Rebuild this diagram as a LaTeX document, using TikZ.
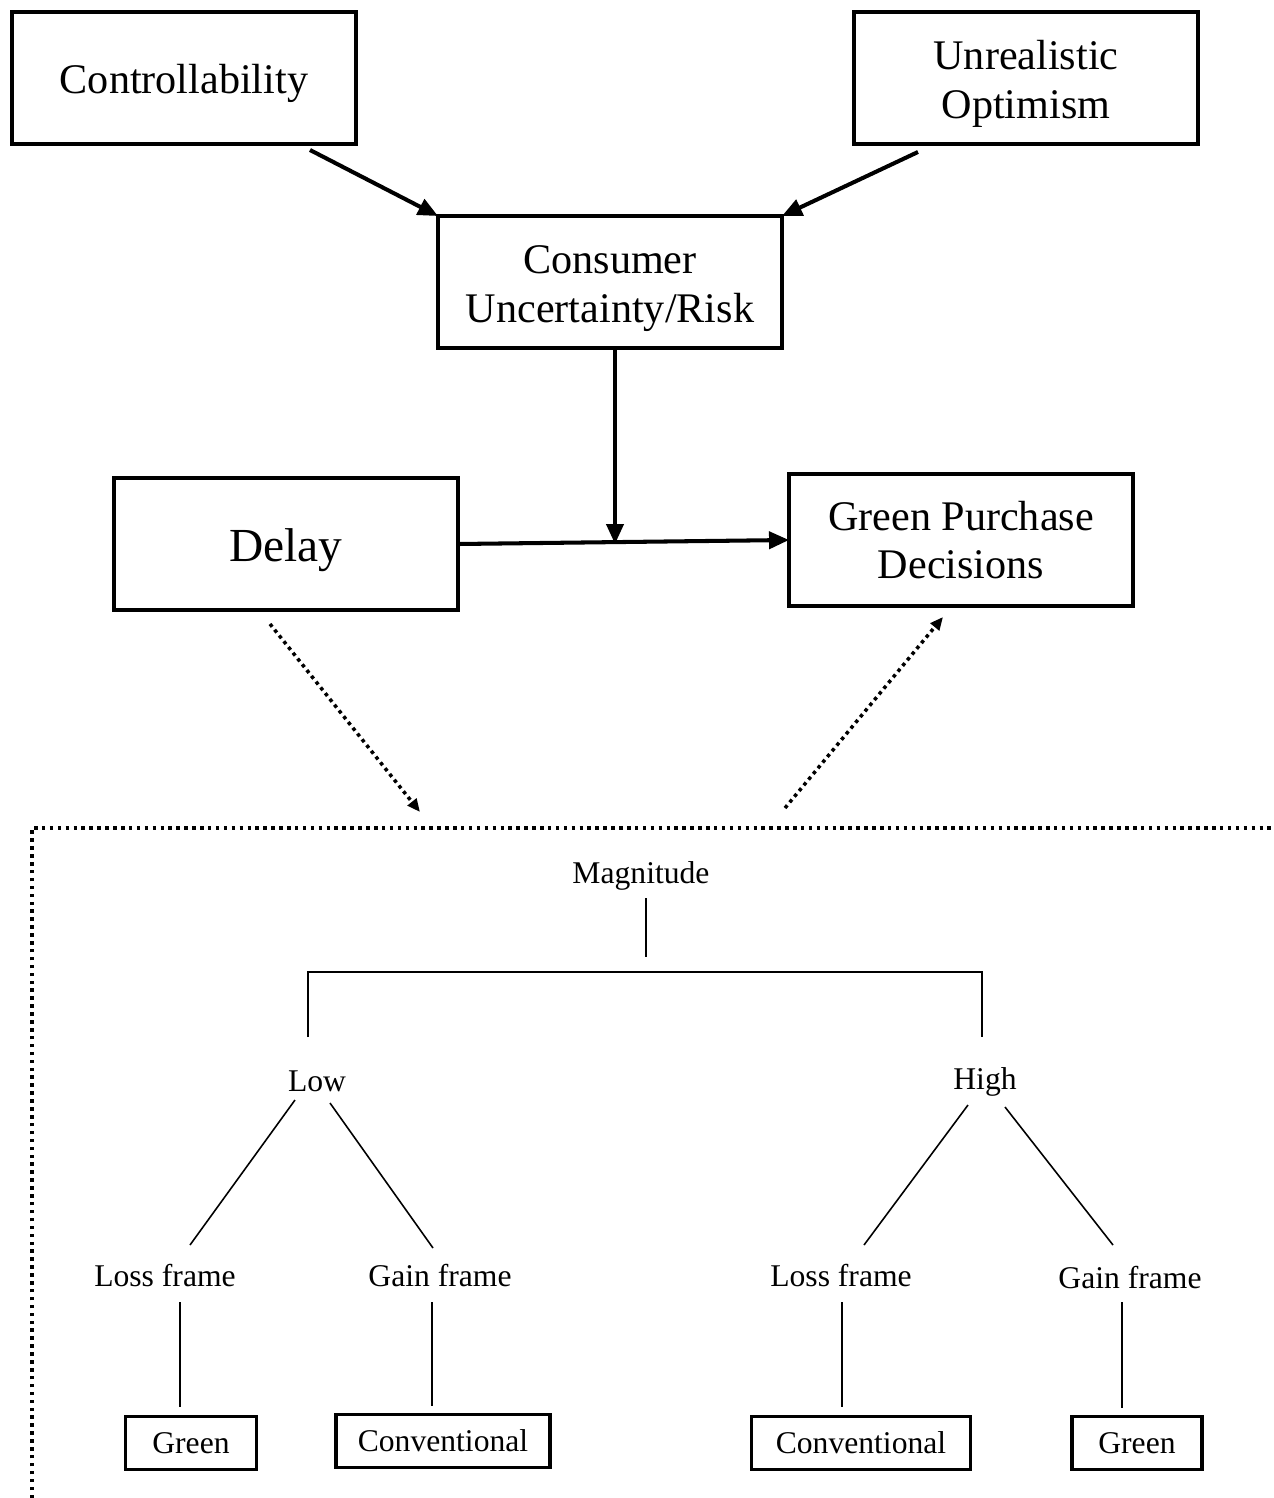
\documentclass[tikz,border=0pt]{standalone}
\usepackage{fontspec}
\setmainfont{Liberation Serif}
\usetikzlibrary{positioning}
\usetikzlibrary{arrows.meta}
% a strut that pushes the box texts down a little
\newcommand{\lift}{\rule{0pt}{0.96em}}
\tikzset{
  construct/.style={rectangle,draw,line width=2.3pt,
                    minimum width=6.88cm,minimum height=2.64cm,
                    align=center,inner sep=0pt,outer sep=0pt,
                    font=\fontsize{24}{27.8}\selectfont},
  choice/.style={rectangle,draw,line width=2pt,minimum height=1.06cm,
                 inner sep=0pt,outer sep=0pt,font=\fontsize{18}{21}\selectfont},
  branch/.style={inner sep=0pt,text depth=0pt,font=\fontsize{18}{21}\selectfont},
  medarrow/.style={-{Triangle[length=0.4cm,width=0.34cm]},line width=2.3pt},
  linkflow/.style={-{Triangle[length=0.26cm,width=0.22cm]},line width=2pt,
                   dash pattern=on 2pt off 2.2pt},
  framing/.style={line width=2pt,dash pattern=on 2pt off 2.5pt},
  treeline/.style={line width=0.9pt},
  bracket/.style={line width=1.4pt},
}
\begin{document}
\begin{tikzpicture}[x=0.02cm,y=-0.02cm]
  \useasboundingbox (0,0) rectangle (1274,1498);

  % top part: the constructs
  \node[construct] (controllabilityBox) at (184,78) {\lift Controllability};
  \node[construct] (optimismBox) at (1026,78) {\lift Unrealistic\\Optimism};
  \node[construct] (riskBox) at (610,282) {\lift Consumer\\Uncertainty/Risk};
  \node[construct,font=\fontsize{27}{31}\selectfont]
      (delayBox) at (286,544) {\lift Delay};
  \node[construct] (decisionBox) at (961,540) {Green Purchase\\Decisions};

  \draw[medarrow] ([shift={(126,6)}]controllabilityBox.south)
      -- (riskBox.north west);
  \draw[medarrow] ([shift={(-108,8)}]optimismBox.south)
      -- (riskBox.north east);
  \draw[medarrow] (delayBox.east) -- (decisionBox.west);
  \coordinate (riskFoot) at ([xshift=0.1cm]riskBox.south);
  \draw[medarrow] (riskFoot) -- (riskFoot |- delayBox.east);

  % dotted frame round the tree
  \coordinate (frameCorner) at (32,828);
  \coordinate (frameIn) at (420,812);
  \coordinate (frameOut) at (785,808);
  \draw[framing] (32,1498) -- (frameCorner) -- (1274,828);
  \draw[linkflow] ([shift={(-16,14)}]delayBox.south) -- (frameIn);
  \draw[linkflow] (frameOut) -- ([shift={(-18,11)}]decisionBox.south);

  % the tree
  \node[branch] (magnitudeLabel) at (641,873) {Magnitude};
  \node[branch] (lowLabel) at (317,1081) {Low};
  \node[branch] (highLabel) at (985,1079) {High};
  \node[branch] (lowLossLabel) at (165,1275) {Loss frame};
  \node[branch] (lowGainLabel) at (440,1275) {Gain frame};
  \node[branch] (highLossLabel) at (841,1275) {Loss frame};
  \node[branch] (highGainLabel) at (1130,1277) {Gain frame};

  \node[choice,minimum width=2.62cm] (lowLossChoice) at (191,1443) {Green};
  \node[choice,minimum width=4.28cm] (lowGainChoice) at (443,1441) {Conventional};
  \node[choice,minimum width=4.38cm] (highLossChoice) at (861,1443) {Conventional};
  \node[choice,minimum width=2.6cm] (highGainChoice) at (1137,1443) {Green};

  \coordinate (magFoot) at (646,957);
  \coordinate (split) at (646,972);
  \coordinate (lowTop) at (308,1037);
  \coordinate (highTop) at (982,1037);
  \draw[treeline] (magnitudeLabel.south -| magFoot) ++(0,14) -- (magFoot);
  \draw[bracket] (lowTop) |- (split) -| (highTop);

  \draw[treeline] ([shift={(-22,19)}]lowLabel.center)
      -- ([shift={(25,-30)}]lowLossLabel.center);
  \draw[treeline] ([shift={(13,22)}]lowLabel.center)
      -- ([shift={(-7,-27)}]lowGainLabel.center);
  \draw[treeline] ([shift={(-17,26)}]highLabel.center)
      -- ([shift={(23,-30)}]highLossLabel.center);
  \draw[treeline] ([shift={(20,28)}]highLabel.center)
      -- ([shift={(-17,-32)}]highGainLabel.center);

  \draw[treeline] ([shift={(15,27)}]lowLossLabel.center)
      -- ([shift={(-11,-10)}]lowLossChoice.north);
  \draw[treeline] ([shift={(-8,27)}]lowGainLabel.center)
      -- ([shift={(-11,-9)}]lowGainChoice.north);
  \draw[treeline] ([shift={(1,27)}]highLossLabel.center)
      -- ([shift={(-19,-10)}]highLossChoice.north);
  \draw[treeline] ([shift={(-8,25)}]highGainLabel.center)
      -- ([shift={(-15,-9)}]highGainChoice.north);
\end{tikzpicture}
\end{document}
